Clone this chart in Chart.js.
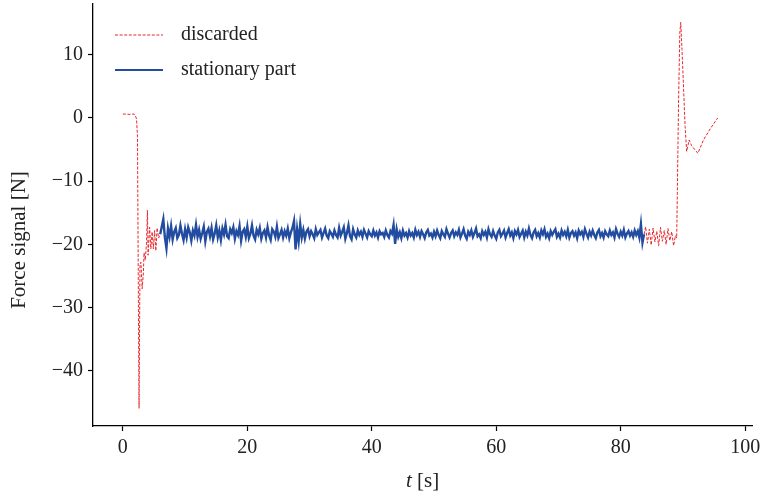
<!DOCTYPE html>
<html>
<head>
<meta charset="utf-8">
<script src="https://cdn.jsdelivr.net/npm/chart.js@4.4.0/dist/chart.umd.min.js"></script>
<style>
  html, body { margin: 0; padding: 0; background: #fff; }
  #wrap { width: 760px; height: 498px; }
</style>
</head>
<body>
<div id="wrap"><canvas id="forceChart" width="760" height="498"></canvas></div>
<script>
// discarded start-up transient (t in s, force in N)
const startT = [0, 0.5, 1.0, 1.5, 1.8, 2.0, 2.2, 2.35, 2.5, 2.6, 2.75, 2.9, 3.1, 3.3, 3.4, 3.6, 3.8, 3.95, 4.05, 4.3, 4.5, 4.7, 4.9, 5.1, 5.3, 5.5, 5.75, 6.0];
const startF = [0.6, 0.6, 0.55, 0.6, 0.6, 0.4, -0.2, -3.0, -30.0, -45.9, -23.3, -22.8, -27.0, -24.5, -21.3, -22.5, -19.8, -14.6, -21.7, -17.3, -20.7, -18.0, -20.7, -17.8, -21.0, -17.4, -19.0, -18.4];

// stationary part, sampled every 0.25 s from t = 6.0 s
const stationaryT0 = 6.0;
const stationaryDt = 0.25;
const stationaryF = [
  -18.4, -17.2, -16.0, -18.9, -20.6, -17.5, -18.8, -17.1, -19.2, -18.0, -17.4, -19.0, -18.5, -17.0, -18.3, -19.3,
  -17.6, -18.9, -17.3, -18.1, -19.4, -17.8, -18.6, -16.9, -18.8, -17.7, -19.1, -18.2, -17.2, -19.5, -18.0, -17.5,
  -18.7, -17.4, -19.2, -18.3, -17.0, -18.9, -17.8, -19.3, -17.5, -18.4, -16.9, -18.7, -19.0, -17.6, -18.2, -17.3,
  -19.1, -17.9, -18.5, -17.1, -19.4, -18.0, -17.6, -18.8, -17.2, -19.0, -18.3, -17.0, -18.6, -19.2, -17.7, -18.4,
  -17.4, -19.1, -18.2, -17.8, -18.9, -17.3, -18.6, -19.3, -17.6, -18.0, -18.8, -17.2, -19.0, -18.4, -17.7, -18.9,
  -17.9, -18.6, -17.5, -19.0, -18.1, -17.4, -16.3, -20.8, -17.6, -19.5, -16.8, -18.9, -17.7, -19.1, -18.0, -17.6,
  -18.7, -17.9, -18.4, -19.0, -17.6, -18.5, -18.1, -17.7, -18.9, -18.2, -17.5, -18.6, -19.0, -17.9, -18.3, -18.8,
  -17.8, -18.5, -18.9, -17.4, -18.6, -18.0, -17.3, -19.1, -18.2, -17.0, -18.7, -19.2, -17.6, -18.4, -18.9, -17.8,
  -18.5, -18.0, -18.8, -17.7, -18.3, -18.9, -17.9, -18.4, -18.7, -17.8, -18.6, -18.1, -18.9, -17.9, -18.4, -18.2,
  -18.8, -17.8, -18.5, -18.9, -17.9, -18.3, -16.9, -19.9, -17.6, -18.8, -18.1, -19.0, -17.8, -18.6, -18.2, -18.9,
  -17.9, -18.6, -18.2, -18.9, -17.7, -18.5, -18.0, -18.8, -17.9, -18.4, -19.0, -18.1, -17.7, -18.6, -18.3, -18.9,
  -18.0, -18.7, -17.8, -18.5, -19.0, -17.9, -18.4, -18.8, -17.6, -18.3, -18.9, -18.2, -17.8, -18.7, -18.1, -18.5,
  -17.7, -18.9, -18.3, -17.6, -18.6, -19.1, -18.0, -18.5, -17.8, -18.8, -18.2, -17.5, -18.7, -18.4, -19.0, -17.9,
  -18.5, -18.0, -18.9, -17.6, -18.4, -18.8, -17.9, -18.6, -19.1, -18.1, -17.7, -18.7, -18.3, -17.8, -18.9, -18.2,
  -17.6, -18.6, -18.1, -19.0, -17.9, -18.4, -17.7, -18.8, -18.3, -17.8, -18.9, -18.0, -18.6, -17.5, -18.5, -19.0,
  -18.1, -17.7, -18.7, -18.2, -18.9, -17.8, -18.4, -17.6, -18.8, -18.3, -19.0, -17.9, -18.5, -18.0, -17.6, -18.8,
  -18.3, -18.9, -17.8, -18.5, -18.0, -18.7, -17.7, -18.9, -18.2, -17.9, -18.6, -18.1, -19.0, -17.8, -18.4, -18.0,
  -18.8, -17.6, -18.3, -18.9, -18.0, -18.6, -17.8, -18.5, -19.0, -18.1, -17.7, -18.7, -18.2, -18.9, -17.9, -18.4,
  -18.7, -17.8, -18.5, -18.1, -18.9, -17.6, -18.3, -18.8, -18.0, -18.6, -17.7, -18.9, -18.3, -17.9, -18.6, -18.1,
  -18.8, -17.8, -18.5, -17.9, -18.9, -16.8, -19.7, -18.4
];

// discarded end part (stop transient)
const endT = [83.75, 84.0, 84.3, 84.6, 84.9, 85.2, 85.5, 85.8, 86.1, 86.4, 86.7, 87.0, 87.3, 87.6, 87.9, 88.2, 88.5, 88.8, 89.0, 89.1, 89.3, 89.5, 89.65, 89.85, 90.07, 90.35, 90.6, 91.0, 91.4, 92.4, 93.3, 94.4, 95.6];
const endF = [-18.4, -17.2, -19.8, -17.6, -20.1, -17.4, -19.6, -17.9, -20.2, -17.3, -19.5, -17.8, -20.0, -17.5, -19.4, -18.0, -20.2, -18.6, -19.0, -12.0, 2.8, 13.4, 15.1, 10.8, 5.5, -1.4, -5.3, -3.5, -4.4, -5.6, -3.5, -1.7, 0.0];

const xTicks = [0, 20, 40, 60, 80, 100];
const yTicks = [-40, -30, -20, -10, 0, 10];

const serif = '"Liberation Serif", "DejaVu Serif", serif';
const textColor = '#222';

const discardedData = startT.map((t, i) => ({ x: t, y: startF[i] }))
  .concat([{ x: 45, y: null }])
  .concat(endT.map((t, i) => ({ x: t, y: endF[i] })));
const stationaryData = stationaryF.map((f, i) => ({ x: stationaryT0 + i * stationaryDt, y: f }));

const fmt = v => (v < 0 ? '\u2212' + Math.abs(v) : String(v));

// axis titles and legend, drawn by hand so they sit where the original has them
const annotations = {
  id: 'annotations',
  afterDraw(chart) {
    const { ctx, chartArea } = chart;
    ctx.save();
    ctx.fillStyle = textColor;
    ctx.textBaseline = 'middle';

    // x title: italic t + [s]
    ctx.font = 'italic 21px ' + serif;
    const tW = ctx.measureText('t').width;
    ctx.font = '21px ' + serif;
    const sW = ctx.measureText(' [s]').width;
    let x0 = (chartArea.left + chartArea.right) / 2 - (tW + sW) / 2;
    ctx.textAlign = 'left';
    ctx.font = 'italic 21px ' + serif;
    ctx.fillText('t', x0, 481);
    ctx.font = '21px ' + serif;
    ctx.fillText(' [s]', x0 + tW, 481);

    // y title
    ctx.save();
    ctx.translate(19, 240);
    ctx.rotate(-Math.PI / 2);
    ctx.textAlign = 'center';
    ctx.fillText('Force signal [N]', 0, 0);
    ctx.restore();

    // legend
    [0, 1].forEach((di, row) => {
      const ds = chart.data.datasets[di];
      const y = 35 + row * 35;
      ctx.save();
      ctx.strokeStyle = ds.borderColor;
      ctx.lineWidth = ds.legendWidth;
      ctx.setLineDash(ds.borderDash || []);
      ctx.beginPath();
      ctx.moveTo(115, y);
      ctx.lineTo(163, y);
      ctx.stroke();
      ctx.restore();
      ctx.textAlign = 'left';
      ctx.font = '20px ' + serif;
      ctx.fillText(ds.label, 181, y);
    });
    ctx.restore();
  }
};

const ctx = document.getElementById('forceChart');

new Chart(ctx, {
  type: 'line',
  data: {
    datasets: [
      {
        label: 'discarded',
        data: discardedData,
        borderColor: '#e8262b',
        borderWidth: 1,
        borderDash: [3, 1.6],
        legendWidth: 1,
        pointRadius: 0,
        spanGaps: false,
        order: 1
      },
      {
        label: 'stationary part',
        data: stationaryData,
        borderColor: '#224c9f',
        borderWidth: 2.4,
        legendWidth: 2.2,
        pointRadius: 0,
        order: 0
      }
    ]
  },
  options: {
    responsive: false,
    animation: false,
    layout: { padding: { left: 0, right: 8, top: 4, bottom: 0 } },
    plugins: {
      legend: { display: false },
      tooltip: { enabled: false }
    },
    elements: { line: { tension: 0 } },
    scales: {
      x: {
        type: 'linear',
        min: -4.8,
        max: 101.1,
        afterBuildTicks: s => { s.ticks = xTicks.map(v => ({ value: v })); },
        afterFit: s => { s.height = 72; s.paddingLeft = 0; s.paddingRight = 0; },
        ticks: {
          callback: fmt,
          color: textColor,
          font: { family: serif, size: 20 },
          padding: 5,
          maxRotation: 0
        },
        grid: { drawOnChartArea: false, drawTicks: true, tickLength: 5, tickColor: '#000', tickWidth: 1.2 },
        border: { color: '#000', width: 1.3 }
      },
      y: {
        type: 'linear',
        min: -48.7,
        max: 18.0,
        afterBuildTicks: s => { s.ticks = yTicks.map(v => ({ value: v })); },
        afterFit: s => { s.width = 93; s.paddingTop = 0; s.paddingBottom = 0; },
        ticks: {
          callback: fmt,
          color: textColor,
          font: { family: serif, size: 20 },
          padding: 5
        },
        grid: { drawOnChartArea: false, drawTicks: true, tickLength: 5, tickColor: '#000', tickWidth: 1.2 },
        border: { color: '#000', width: 1.3 }
      }
    }
  },
  plugins: [annotations]
});
</script>
</body>
</html>
